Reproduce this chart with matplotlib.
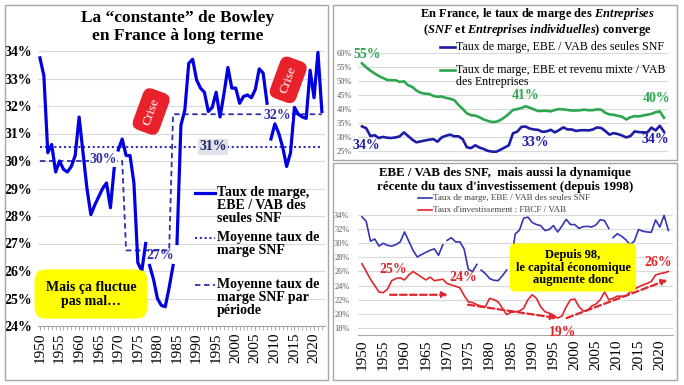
import numpy as np
import matplotlib.pyplot as plt
from matplotlib.lines import Line2D
from matplotlib.patches import Rectangle
from matplotlib.ticker import MultipleLocator, FuncFormatter

plt.rcParams['font.family'] = ['Liberation Serif', 'DejaVu Serif']
plt.rcParams['mathtext.fontset'] = 'custom'
plt.rcParams['mathtext.it'] = 'Liberation Serif:italic:bold'
plt.rcParams['mathtext.rm'] = 'Liberation Serif:bold'

# ---- data ----
years = np.arange(1950, 2023)

# EBE / VAB des SNF (%)
marge_snf = [33.75, 33.1, 30.3, 30.6, 29.6, 30.0, 29.7, 29.6, 29.8, 30.2,
             31.6, 30.3, 29.0, 28.05, 28.4, 28.7, 29.0, 29.2, 28.3, 29.8,
             30.4, 30.8, 30.2, 30.2, 29.2, 26.3, 26.0, 27.0, 26.2, 25.7,
             25.0, 24.75, 24.7, 25.4, 26.2, 27.0, 31.3, 31.85, 33.55, 33.7,
             32.95, 32.65, 32.5, 31.8, 31.95, 32.5, 31.6, 32.45, 33.4, 32.65,
             32.65, 32.1, 32.35, 32.4, 32.3, 32.6, 33.35, 33.2, 32.1, 30.8,
             31.35, 31.0, 30.5, 29.8, 30.3, 31.95, 31.7, 31.6, 31.55, 33.3,
             32.3, 33.95, 31.8]
# series breaks (new base) after these years
breaks = [1969, 1977, 1984, 2008]

# EBE et revenu mixte / VAB des Entreprises (%)
marge_entreprises = [56.2, 54.8, 53.6, 52.6, 51.7, 51.0, 50.3, 50.2, 50.2, 49.6,
                     49.8, 48.4, 47.8, 46.5, 45.7, 45.4, 45.3, 44.6, 44.3, 44.4,
                     43.9, 43.6, 43.1, 41.4, 40.0, 38.4, 37.7, 37.6, 37.0, 36.2,
                     35.7, 35.3, 35.4, 36.0, 37.0, 38.2, 39.6, 39.9, 40.3, 40.9,
                     40.4, 39.8, 39.2, 39.3, 39.3, 39.1, 39.6, 39.9, 39.8, 39.6,
                     39.4, 39.4, 39.5, 39.7, 39.5, 39.5, 39.8, 39.7, 38.6, 38.0,
                     37.9, 37.5, 37.2, 36.2, 37.0, 37.4, 37.3, 37.6, 37.9, 38.2,
                     38.8, 39.1, 36.8]

# FBCF / VAB (%)
invest = [27.1, 26.0, 24.9, 24.0, 23.1, 23.0, 23.5, 24.7, 25.0, 25.1,
          24.8, 25.5, 26.0, 25.6, 25.2, 24.8, 25.2, 24.7, 24.8, 24.9,
          24.3, 24.1, 23.9, 23.7, 22.6, 21.7, 21.6, 21.3, 21.1, 21.0,
          22.2, 22.0, 21.7, 20.8, 19.9, 20.2, 20.3, 20.4, 20.8, 22.0,
          22.7, 22.2, 21.0, 20.3, 20.1, 19.8, 19.4, 19.7, 21.0, 22.0,
          22.1, 21.0, 20.4, 20.5, 21.1, 21.4, 22.0, 23.1, 22.0, 22.2,
          22.5, 22.5, 22.5, 23.1, 23.5, 23.8, 24.1, 24.3, 24.6, 25.5,
          25.7, 25.8, 26.0]

mean_all = 30.5
period_starts = [1950, 1972, 1984]
period_means = [30.0, 26.75, 31.7]

# trend arrows on investment rate: (year0, val0, year1, val1)
trend_arrows = [(1956.6, 22.7, 1970.2, 22.7),
                (1974.9, 21.3, 1995.8, 19.4),
                (1998.1, 19.4, 2021.8, 24.8)]

# ---- style ----
W, H = 684, 385
BLUE = '#0000e0'
NAVY = '#3030a8'
GREEN = '#2ea64f'
DBLUE = '#1c1ca6'
RED = '#e0262c'
GRID = '#d9d9d9'
FRAME = '#a6a6a6'

fig = plt.figure(figsize=(W / 100, H / 100), dpi=100)


def px_axes(x0, y0, x1, y1):
    return fig.add_axes([x0 / W, 1 - y1 / H, (x1 - x0) / W, (y1 - y0) / H])


def ftext(x, y, s, **kw):
    return fig.text(x / W, 1 - y / H, s, **kw)


def fline(x0, x1, y, **kw):
    fig.add_artist(Line2D([x0 / W, x1 / W], [1 - y / H, 1 - y / H], **kw))


def frame(x0, y0, x1, y1):
    fig.add_artist(Rectangle((x0 / W, 1 - y1 / H), (x1 - x0) / W, (y1 - y0) / H,
                             fill=False, ec=FRAME, lw=1.0))


def segments(x, y):
    x = np.asarray(x)
    y = np.asarray(y)
    edges = [x[0] - 1] + breaks + [x[-1]]
    for a, b in zip(edges[:-1], edges[1:]):
        m = (x > a) & (x <= b)
        yield x[m], y[m]


pct = FuncFormatter(lambda v, p: f'{v:.0f}%')

frame(5, 5, 328, 380)
frame(333, 5, 677, 160)
frame(333, 163, 677, 380)

# ---------------- left panel ----------------
ax = px_axes(38, 45.5, 325, 326)
for xs, ys in segments(years, marge_snf):
    ax.plot(xs, ys, color=BLUE, lw=2.3, solid_joinstyle='round', zorder=3)
ax.plot([years[0], years[-1]], [mean_all, mean_all], ls=(0, (1, 1.3)), color=NAVY, lw=1.5, zorder=2)
pm = [period_means[np.searchsorted(period_starts, y, side='right') - 1] for y in years]
ax.plot(years, pm, ls=(0, (3, 2)), color=NAVY, lw=1.3, zorder=2)

ax.set_xlim(1949.5, 2022.8)
ax.set_ylim(24, 34.2)
ax.set_yticks(range(24, 35))
ax.yaxis.set_major_formatter(pct)
ax.xaxis.set_major_locator(MultipleLocator(5))
ax.xaxis.set_minor_locator(MultipleLocator(1))
ax.tick_params(axis='y', length=0, labelsize=10, pad=4)
for t in ax.get_yticklabels():
    t.set_fontweight('bold')
ax.tick_params(axis='x', which='both', length=3, color=FRAME, labelsize=11, labelrotation=90, pad=2)
ax.grid(axis='y', color=GRID, lw=0.8)
ax.set_axisbelow(True)
for s in ['top', 'right', 'left']:
    ax.spines[s].set_visible(False)
ax.spines['bottom'].set_color(FRAME)

lab = dict(color=NAVY, fontsize=10, fontweight='bold', ha='center', va='center', zorder=4)
ax.text(1966.1, 30.04, '30%', bbox=dict(fc='white', ec='none', pad=0.5), **lab)
ax.text(1980.8, 26.55, '27%', **lab)
ax.text(2010.6, 31.67, '32%', bbox=dict(fc='white', ec='none', pad=0.5), **lab)
ax.text(1994.2, 30.51, '31%', color='#202060', fontsize=10, fontweight='bold', ha='center',
        va='center', zorder=4, bbox=dict(fc='#dfe3ee', ec='none', pad=1))

crise = dict(color='white', fontsize=9.5, ha='center', va='center', rotation=70,
             rotation_mode='anchor', zorder=5,
             bbox=dict(boxstyle='round,pad=0.6', fc='#e8212b', ec='none'))
ax.text(1978.4, 31.8, 'Crise', **crise)
ax.text(2013.4, 32.95, 'Crise', **crise)

ftext(91, 294, 'Mais ça fluctue\npas mal…', fontsize=10, fontweight='bold', ha='center',
      va='center', linespacing=1.1,
      bbox=dict(boxstyle='round,pad=0.8', fc='#ffff00', ec='none'))

ftext(178, 27, 'La “constante” de Bowley\nen France à long terme', fontsize=12.5,
      fontweight='bold', ha='center', va='center', linespacing=1.1)

# legend (left)
fline(195, 215, 193, color=BLUE, lw=2.3)
fline(195, 215, 238, color=NAVY, lw=1.5, ls=(0, (1, 1.3)))
fline(195, 215, 285, color=NAVY, lw=1.3, ls=(0, (3, 2)))
leg = dict(fontsize=10, fontweight='bold', ha='left', va='top', linespacing=1.0)
ftext(217, 186, 'Taux de marge,\nEBE / VAB des\nseules SNF', **leg)
ftext(217, 231, 'Moyenne taux de\nmarge SNF', **leg)
ftext(217, 278, 'Moyenne taux de\nmarge SNF par\npériode', **leg)

# ---------------- top right ----------------
ax2 = px_axes(357.8, 49.9, 668.2, 154)
ax2.plot(years, marge_entreprises, color=GREEN, lw=1.9)
ax2.plot(years, marge_snf, color=DBLUE, lw=1.9)
ax2.set_xlim(1949, 2023)
ax2.set_ylim(23.9, 61)
ax2.set_yticks(range(25, 61, 5))
ax2.yaxis.set_major_formatter(pct)
ax2.tick_params(axis='y', length=0, labelsize=6, labelcolor='#595959', pad=4)
ax2.set_xticks([])
ax2.grid(axis='y', color=GRID, lw=0.8)
ax2.set_axisbelow(True)
for s in ax2.spines.values():
    s.set_visible(False)
g = dict(color=GREEN, fontsize=10, fontweight='bold', ha='center', va='center')
b = dict(color=DBLUE, fontsize=10, fontweight='bold', ha='center', va='center')
ax2.text(1951.3, 59.5, '55%', **g)
ax2.text(1989.0, 44.9, '41%', **g)
ax2.text(2020.3, 43.8, '40%', **g)
ax2.text(1951.0, 26.8, '34%', **b)
ax2.text(1991.3, 28.0, '33%', **b)
ax2.text(2019.9, 28.9, '34%', **b)

ftext(537, 14, r'En France, le taux de marge des $\mathit{Entreprises}$', fontsize=9,
      fontweight='bold', ha='center', va='center')
ftext(537, 29.5, r'($\mathit{SNF}$ et $\mathit{Entreprises\ individuelles}$) converge', fontsize=9,
      fontweight='bold', ha='center', va='center')
fline(440, 455, 47, color=DBLUE, lw=1.9)
fline(440, 455, 70, color=GREEN, lw=1.9)
ftext(456, 47, 'Taux de marge, EBE / VAB des seules SNF', fontsize=8.6, ha='left', va='center')
ftext(456, 63.5, 'Taux de marge, EBE et revenu mixte / VAB\ndes Entreprises', fontsize=8.6,
      ha='left', va='top', linespacing=1.0)

# ---------------- bottom right ----------------
ax3 = px_axes(357.7, 211.5, 672.6, 335)
for xs, ys in segments(years, marge_snf):
    ax3.plot(xs, ys, color='#3535b5', lw=1.2)
ax3.plot(years, invest, color=RED, lw=1.2)
ax3.set_xlim(1949, 2023)
ax3.set_ylim(17, 34.5)
ax3.set_yticks(range(18, 35, 2))
ax3.yaxis.set_major_formatter(pct)
ax3.xaxis.set_major_locator(MultipleLocator(5))
ax3.tick_params(axis='y', length=0, labelsize=6, labelcolor='#595959', pad=6)
ax3.tick_params(axis='x', length=0, labelsize=11, labelrotation=90, pad=3)
ax3.grid(axis='y', color=GRID, lw=0.8)
ax3.set_axisbelow(True)
for s in ['top', 'right', 'left']:
    ax3.spines[s].set_visible(False)
ax3.spines['bottom'].set_color(FRAME)

for x0, y0, x1, y1 in trend_arrows:
    ax3.annotate('', xy=(x1, y1), xytext=(x0, y0),
                 arrowprops=dict(arrowstyle='-|>', color=RED, lw=1.6, ls=(0, (3, 1.5)),
                                 mutation_scale=8, shrinkA=0, shrinkB=0))
r = dict(color=RED, fontsize=10, fontweight='bold', ha='center', va='center')
ax3.text(1957.3, 26.35, '25%', **r)
ax3.text(1973.7, 25.2, '24%', **r)
ax3.text(1997.2, 17.3, '19%', **r)
ax3.text(2019.5, 27.3, '26%', **r)

ftext(573, 267.5, 'Depuis 98,\nle capital économique\naugmente donc', fontsize=9,
      fontweight='bold', ha='center', va='center', linespacing=1.05,
      bbox=dict(boxstyle='round,pad=0.45', fc='#ffff00', ec='none'))

ftext(505, 173, 'EBE / VAB des SNF,  mais aussi la dynamique', fontsize=9.3,
      fontweight='bold', ha='center', va='center')
ftext(505, 187, "récente du taux d'investissement (depuis 1998)", fontsize=9.3,
      fontweight='bold', ha='center', va='center')
fline(418, 432, 197.5, color='#3535b5', lw=1.2)
fline(418, 432, 209.5, color=RED, lw=1.2)
ftext(433, 197.5, 'Taux de marge, EBE / VAB des seules SNF', fontsize=6.5,
      color='#404040', ha='left', va='center')
ftext(433, 209.5, "Taux d'investissement : FBCF / VAB", fontsize=6.5,
      color='#404040', ha='left', va='center')

fig.savefig('out.png', dpi=100)
